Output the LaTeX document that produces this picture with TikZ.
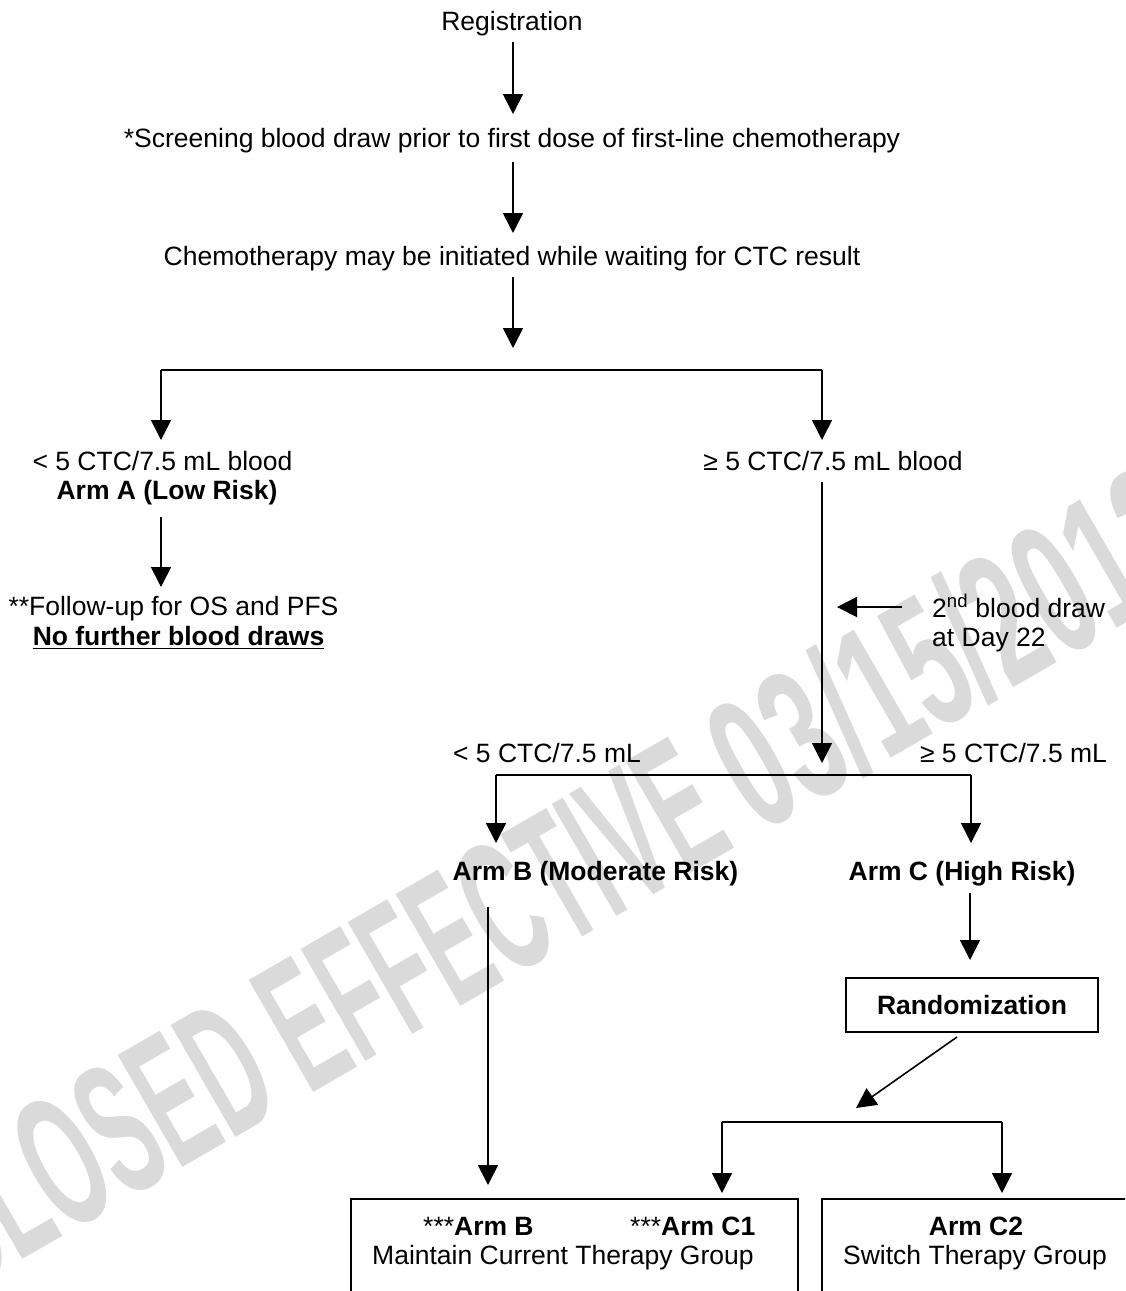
\documentclass[tikz,border=0pt]{standalone}
\usepackage{fontspec}
\setmainfont{Liberation Sans}
\usetikzlibrary{arrows.meta}
\definecolor{wmgray}{RGB}{218,218,218}
\begin{document}
\begin{tikzpicture}[x=1pt,y=-1pt,
  lbl/.style={inner sep=0pt,anchor=base,font=\fontsize{26.5}{30}\selectfont},
  lblb/.style={lbl,font=\fontsize{26.5}{30}\selectfont\bfseries},
  conn/.style={line width=1.6pt,-{Triangle[length=20pt,width=20pt]}},
  wire/.style={line width=1.6pt},
  frame/.style={draw,line width=1.6pt}]
\useasboundingbox (0,0) rectangle (1125,1291);
\clip (0,0) rectangle (1125,1291);

% watermark
\node[inner sep=0pt,anchor=base west,rotate=30,text=wmgray] (wm) at (-39.4,1295.6)
  {\fontsize{188}{188}\selectfont\bfseries\scalebox{0.48}[1]{CLOSED EFFECTIVE\ }\scalebox{0.555}[1]{03/15/2012}};

% texts
\node[lbl] (reg) at (512,30) {Registration};
\node[lbl] (scr) at (512,147) {*Screening blood draw prior to first dose of first-line chemotherapy};
\node[lbl] (chemo) at (512,265) {Chemotherapy may be initiated while waiting for CTC result};
\node[lbl] (lowA) at (162.5,470) {< 5 CTC/7.5 mL blood};
\node[lblb] (armA) at (167,499) {Arm A (Low Risk)};
\node[lbl] (fu1) at (173.5,615) {**Follow-up for OS and PFS};
\node[lblb] (fu2) at (178.5,645) {No further blood draws};
\draw[line width=1.6pt] ([yshift=-3.5pt]fu2.base west) -- ([yshift=-3.5pt]fu2.base east);
\node[lbl] (high) at (833,470) {≥ 5 CTC/7.5 mL blood};
\node[lbl,anchor=base west] (sec1) at (932,617) {2\textsuperscript{nd} blood draw};
\node[lbl,anchor=base west] (sec2) at (932,646) {at Day 22};
\node[lbl] (lowB) at (547,762) {< 5 CTC/7.5 mL};
\node[lbl] (highB) at (1013.5,762) {≥ 5 CTC/7.5 mL};
\node[lblb] (armB) at (595.5,880) {Arm B (Moderate Risk)};
\node[lblb] (armC) at (962,880) {Arm C (High Risk)};
\node[frame,minimum width=252pt,minimum height=54pt,inner sep=0pt,font=\fontsize{26.5}{30}\selectfont\bfseries] (rand) at (972,1005) {Randomization};

% bottom boxes
\draw[line width=1.6pt] (351,1320) -- (351,1199) -- (798,1199) -- (798,1320);
\draw[line width=1.6pt] (822,1320) -- (822,1199) -- (1140,1199);
\node[lbl,anchor=base west] (bArmB) at (423,1235) {***\textbf{Arm B}};
\node[lbl,anchor=base west] (bArmC1) at (630,1235) {***\textbf{Arm C1}};
\node[lbl,anchor=base west] (maint) at (372,1264) {Maintain Current Therapy Group};
\node[lblb] (bArmC2) at (976,1235) {Arm C2};
\node[lbl] (switch) at (975,1264) {Switch Therapy Group};

% connector coordinates
\coordinate (a1s) at (513,42);  \coordinate (a1e) at (513,114);
\coordinate (a2s) at (513,162); \coordinate (a2e) at (513,233);
\coordinate (a3s) at (513,277); \coordinate (a3e) at (513,348);
\coordinate (jL) at (161,370);  \coordinate (jR) at (822,370);
\coordinate (tL) at (161,440);  \coordinate (tR) at (822,440);
\coordinate (a4s) at (161,517); \coordinate (a4e) at (161,587);
\coordinate (vs) at (822,482);  \coordinate (ve) at (822,763);
\coordinate (ss) at (902,607);  \coordinate (se) at (837,607);
\coordinate (kL) at (496,775);  \coordinate (kR) at (971,775);
\coordinate (uL) at (496,843);  \coordinate (uR) at (971,843);
\coordinate (bs) at (488,907);  \coordinate (be) at (488,1185);
\coordinate (cs) at (970,893);  \coordinate (ce) at (970,960);
\coordinate (ds) at (957,1037); \coordinate (de) at (856,1108);
\coordinate (mL) at (722,1122); \coordinate (mR) at (1002,1122);
\coordinate (nL) at (722,1193); \coordinate (nR) at (1002,1193);

\draw[conn] (a1s) -- (a1e);
\draw[conn] (a2s) -- (a2e);
\draw[conn] (a3s) -- (a3e);
\draw[wire] (jL) -- (jR);
\draw[conn] (jL) -- (tL);
\draw[conn] (jR) -- (tR);
\draw[conn] (a4s) -- (a4e);
\draw[conn] (vs) -- (ve);
\draw[conn] (ss) -- (se);
\draw[wire] (kL) -- (kR);
\draw[conn] (kL) -- (uL);
\draw[conn] (kR) -- (uR);
\draw[conn] (bs) -- (be);
\draw[conn] (cs) -- (ce);
\draw[conn] (ds) -- (de);
\draw[wire] (mL) -- (mR);
\draw[conn] (mL) -- (nL);
\draw[conn] (mR) -- (nR);
\end{tikzpicture}
\end{document}
